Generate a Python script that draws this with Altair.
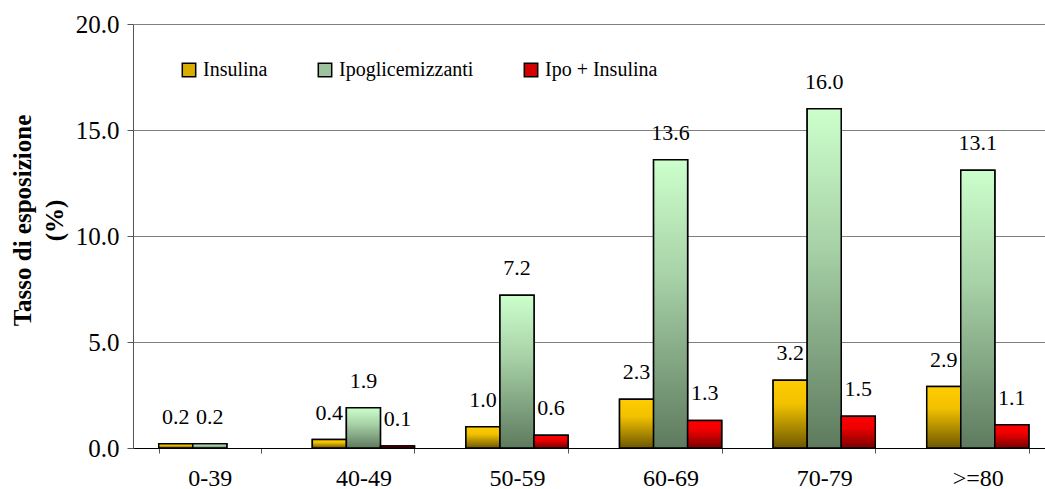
import altair as alt
import pandas as pd

ages = ["0-39", "40-49", "50-59", "60-69", "70-79", ">=80"]
series = ["Insulina", "Ipoglicemizzanti", "Ipo + Insulina"]
insulina = [0.2, 0.4, 1.0, 2.3, 3.2, 2.9]
ipogli = [0.2, 1.9, 7.2, 13.6, 16.0, 13.1]
ipo_ins = [None, 0.1, 0.6, 1.3, 1.5, 1.1]

rows = []
for s, vals in zip(series, [insulina, ipogli, ipo_ins]):
    for a, v in zip(ages, vals):
        rows.append({"age": a, "series": s, "value": v})
df = pd.DataFrame(rows)

FONT = "Liberation Serif, Times New Roman, serif"
solid = ["#D9AC00", "#9DC29D", "#D40000"]
grads = {
    "Insulina": [("#FFCC00", 0), ("#F2C200", 0.35), ("#6E5800", 1)],
    "Ipoglicemizzanti": [("#CCFFCC", 0), ("#A8D2A8", 0.4), ("#5E7A5E", 1)],
    "Ipo + Insulina": [("#FF0000", 0), ("#F00000", 0.35), ("#7A0000", 1)],
}

x = alt.X(
    "age:N",
    sort=ages,
    scale=alt.Scale(range=[0, 921.6], paddingInner=0.335, paddingOuter=0.1675),
    axis=alt.Axis(
        title=None, labelAngle=0, labelFont=FONT, labelFontSize=24, labelColor="black",
        tickBand="extent", tickSize=5, tickColor="#555555", domainColor="black",
        labelPadding=13, grid=False,
    ),
)
xo = alt.XOffset("series:N", sort=series,
                 scale=alt.Scale(domain=series, paddingInner=0, paddingOuter=0))
y = alt.Y(
    "value:Q",
    scale=alt.Scale(domain=[0, 20]),
    axis=alt.Axis(
        values=[0, 5, 10, 15, 20], format=".1f",
        title=["Tasso di esposizione", "(%)"],
        titleFont=FONT, titleFontSize=25, titleFontWeight="bold", titleColor="black",
        titleAngle=-90, titleX=-111, titleY=196, titleAlign="center", titleBaseline="middle",
        titleLineHeight=32,
        labelFont=FONT, labelFontSize=25, labelColor="black", labelPadding=8,
        tickSize=6, tickColor="#555555", domainColor="#555555",
        gridColor="#808080", gridWidth=1,
    ),
)

base = alt.Chart(df).transform_filter("isValid(datum.value)")

legend_layer = base.mark_bar(stroke="black", strokeWidth=1.5).encode(
    x=x, xOffset=xo, y=y,
    color=alt.Color(
        "series:N",
        scale=alt.Scale(domain=series, range=solid),
        legend=alt.Legend(
            orient="none", legendX=46, legendY=36, direction="horizontal", title=None,
            symbolType="square", symbolSize=180, symbolStrokeColor="black",
            symbolStrokeWidth=1.5, labelFont=FONT, labelFontSize=20, labelColor="black",
            columnPadding=47, labelOffset=4, padding=0,
        ),
    ),
)

layers = [legend_layer]
for s in series:
    g = alt.Gradient(
        gradient="linear",
        stops=[alt.GradientStop(color=c, offset=o) for c, o in grads[s]],
        x1=0, x2=0, y1=0, y2=1,
    )
    layers.append(
        base.transform_filter(alt.datum.series == s)
        .mark_bar(fill=g, stroke="black", strokeWidth=1.5)
        .encode(x=x, xOffset=xo, y=y)
    )

text = base.mark_text(
    font=FONT, fontSize=22, color="black", baseline="alphabetic", dy=-20
).encode(x=x, xOffset=xo, y=y, text=alt.Text("value:Q", format=".1f"))
layers.append(text)

chart = (
    alt.layer(*layers)
    .properties(
        width=912, height=424,
        autosize=alt.AutoSizeParams(type="none"),
        padding={"left": 133, "top": 24, "right": 0, "bottom": 41},
        background="white",
    )
    .configure_view(stroke=None)
)

chart.save("out.html", embed_options={"renderer": "svg", "actions": False})
